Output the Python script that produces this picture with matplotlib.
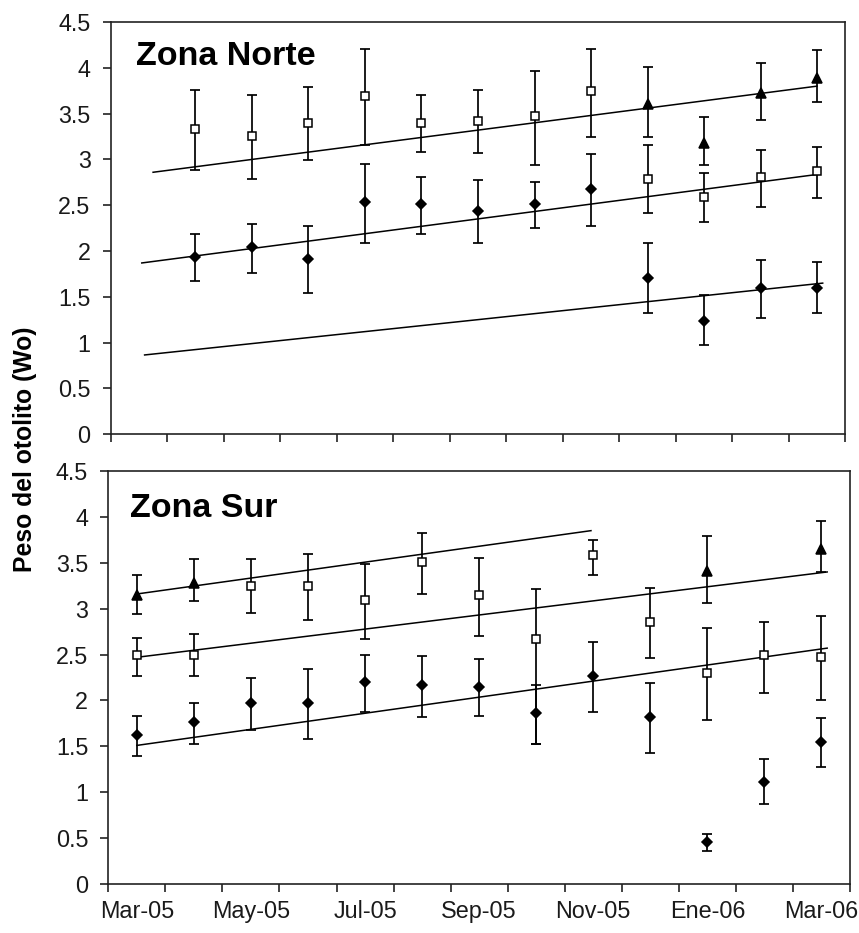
import numpy as np
import matplotlib
matplotlib.use("Agg")
import matplotlib.pyplot as plt
from matplotlib.ticker import FixedLocator, FixedFormatter, FuncFormatter

plt.rcParams['font.family'] = ['Liberation Sans', 'DejaVu Sans']

# ---------------- data ----------------
month_labels = ['Mar-05', 'May-05', 'Jul-05', 'Sep-05', 'Nov-05', 'Ene-06', 'Mar-06']
n_months = 13  # Mar-05 .. Mar-06

nan = np.nan
# Zona Norte (month index 0 = Mar-05)
norte_sq_mean = [nan, 3.33, 3.26, 3.40, 3.69, 3.40, 3.42, 3.47, 3.75, 2.79, 2.59, 2.81, 2.875]
norte_sq_lo   = [nan, 2.885, 2.79, 2.99, 3.16, 3.085, 3.07, 2.94, 3.25, 2.41, 2.32, 2.485, 2.58]
norte_sq_hi   = [nan, 3.76, 3.70, 3.79, 4.21, 3.70, 3.76, 3.97, 4.21, 3.155, 2.85, 3.10, 3.14]

norte_tri_mean = [nan, nan, nan, nan, nan, nan, nan, nan, nan, 3.61, 3.18, 3.73, 3.89]
norte_tri_lo   = [nan, nan, nan, nan, nan, nan, nan, nan, nan, 3.25, 2.94, 3.43, 3.63]
norte_tri_hi   = [nan, nan, nan, nan, nan, nan, nan, nan, nan, 4.01, 3.46, 4.05, 4.19]

norte_dia_mean = [nan, 1.93, 2.04, 1.91, 2.53, 2.51, 2.44, 2.51, 2.68, 1.71, 1.24, 1.60, 1.60]
norte_dia_lo   = [nan, 1.67, 1.76, 1.54, 2.085, 2.19, 2.085, 2.25, 2.27, 1.32, 0.975, 1.27, 1.32]
norte_dia_hi   = [nan, 2.19, 2.30, 2.27, 2.95, 2.81, 2.78, 2.75, 3.06, 2.085, 1.52, 1.90, 1.88]

# trend lines (x in months from Mar-05 axis start, y = fitted weight)
norte_trend_x = [(0.75, 12.5), (0.55, 12.55), (0.6, 12.6)]
norte_trend_y = [(2.86, 3.80), (1.87, 2.84), (0.866, 1.65)]

# Zona Sur
sur_sq_mean = [2.495, 2.49, 3.25, 3.25, 3.09, 3.51, 3.145, 2.67, 3.58, 2.85, 2.295, 2.49, 2.47]
sur_sq_lo   = [2.27, 2.27, 2.955, 2.88, 2.67, 3.16, 2.70, 1.52, 3.37, 2.465, 1.79, 2.08, 2.01]
sur_sq_hi   = [2.68, 2.72, 3.54, 3.60, 3.49, 3.82, 3.55, 3.21, 3.75, 3.22, 2.785, 2.86, 2.92]

sur_tri_mean = [3.145, 3.28, nan, nan, nan, nan, nan, nan, nan, nan, 3.41, nan, 3.65]
sur_tri_lo   = [2.94, 3.08, nan, nan, nan, nan, nan, nan, nan, nan, 3.06, nan, 3.395]
sur_tri_hi   = [3.37, 3.54, nan, nan, nan, nan, nan, nan, nan, nan, 3.79, nan, 3.95]

sur_dia_mean = [1.62, 1.77, 1.97, 1.97, 2.20, 2.17, 2.15, 1.86, 2.27, 1.82, 0.46, 1.11, 1.55]
sur_dia_lo   = [1.39, 1.525, 1.68, 1.58, 1.87, 1.82, 1.83, 1.525, 1.87, 1.43, 0.36, 0.87, 1.27]
sur_dia_hi   = [1.83, 1.97, 2.25, 2.34, 2.50, 2.48, 2.45, 2.17, 2.64, 2.19, 0.54, 1.36, 1.81]

sur_trend_x = [(0.5, 8.46), (0.5, 12.6), (0.5, 12.6)]
sur_trend_y = [(3.16, 3.85), (2.47, 3.40), (1.51, 2.57)]

# ---------------- figure ----------------
W, H = 859, 933
fig = plt.figure(figsize=(W / 100, H / 100), dpi=100)

ax_top = fig.add_axes([110.7 / W, (H - 434.3) / H, (845.3 - 110.7) / W, (434.3 - 22) / H])
ax_bot = fig.add_axes([108.3 / W, (H - 884) / H, (850 - 108.3) / W, (884 - 471) / H])

x = np.arange(n_months) + 0.5
spine_col = '#222222'


def draw_series(ax, mean, lo, hi, marker, ms, face):
    m = np.array(mean, float)
    l = np.array(lo, float)
    h = np.array(hi, float)
    ok = ~np.isnan(m)
    ax.errorbar(x[ok], m[ok], yerr=[m[ok] - l[ok], h[ok] - m[ok]], fmt='none',
                ecolor='black', elinewidth=1.25, capsize=3.6, capthick=1.25, zorder=3)
    ax.plot(x[ok], m[ok], linestyle='none', marker=marker, markersize=ms,
            markerfacecolor=face, markeredgecolor='black', markeredgewidth=1.1, zorder=4)


def style_axis(ax, show_labels):
    ax.set_xlim(0, n_months)
    ax.set_ylim(0, 4.5)
    for s in ax.spines.values():
        s.set_color(spine_col)
        s.set_linewidth(1.2)
    ax.xaxis.set_major_locator(FixedLocator(np.arange(0, n_months + 1)))
    ax.xaxis.set_major_formatter(FixedFormatter([''] * (n_months + 1)))
    ax.xaxis.set_minor_locator(FixedLocator(0.5 + 2 * np.arange(len(month_labels))))
    if show_labels:
        ax.xaxis.set_minor_formatter(FixedFormatter(month_labels))
    else:
        ax.xaxis.set_minor_formatter(FixedFormatter([''] * len(month_labels)))
    ax.tick_params(axis='x', which='major', direction='out', length=6, width=1.2,
                   color=spine_col)
    ax.tick_params(axis='x', which='minor', length=0, pad=11.5, labelsize=16.8,
                   labelcolor='#1a1a1a')
    ax.yaxis.set_major_locator(FixedLocator(np.arange(0, 4.51, 0.5)))
    ax.yaxis.set_major_formatter(FuncFormatter(lambda v, p: '%g' % v))
    ax.tick_params(axis='y', direction='out', length=6, width=1.2, color=spine_col,
                   pad=8.5, labelsize=16.8, labelcolor='#1a1a1a')


for ax, data, tx, ty in [
    (ax_top, (norte_sq_mean, norte_sq_lo, norte_sq_hi, norte_tri_mean, norte_tri_lo, norte_tri_hi,
              norte_dia_mean, norte_dia_lo, norte_dia_hi), norte_trend_x, norte_trend_y),
    (ax_bot, (sur_sq_mean, sur_sq_lo, sur_sq_hi, sur_tri_mean, sur_tri_lo, sur_tri_hi,
              sur_dia_mean, sur_dia_lo, sur_dia_hi), sur_trend_x, sur_trend_y)]:
    for (x0, x1), (y0, y1) in zip(tx, ty):
        ax.plot([x0, x1], [y0, y1], color='black', linewidth=1.1, zorder=2)
    draw_series(ax, data[0], data[1], data[2], 's', 6.4, 'white')
    draw_series(ax, data[3], data[4], data[5], '^', 7.8, 'black')
    draw_series(ax, data[6], data[7], data[8], 'D', 5.6, 'black')

style_axis(ax_top, False)
style_axis(ax_bot, True)

fig.text(136 / W, (H - 65) / H, 'Zona Norte', fontsize=24.5, fontweight='bold',
         ha='left', va='baseline')
fig.text(130 / W, (H - 516.7) / H, 'Zona Sur', fontsize=24.5, fontweight='bold',
         ha='left', va='baseline')
fig.text(25 / W, (H - 449) / H, 'Peso del otolito (Wo)', fontsize=17.8, fontweight='bold',
         rotation=90, ha='center', va='center')

fig.savefig('out.png', dpi=100)
